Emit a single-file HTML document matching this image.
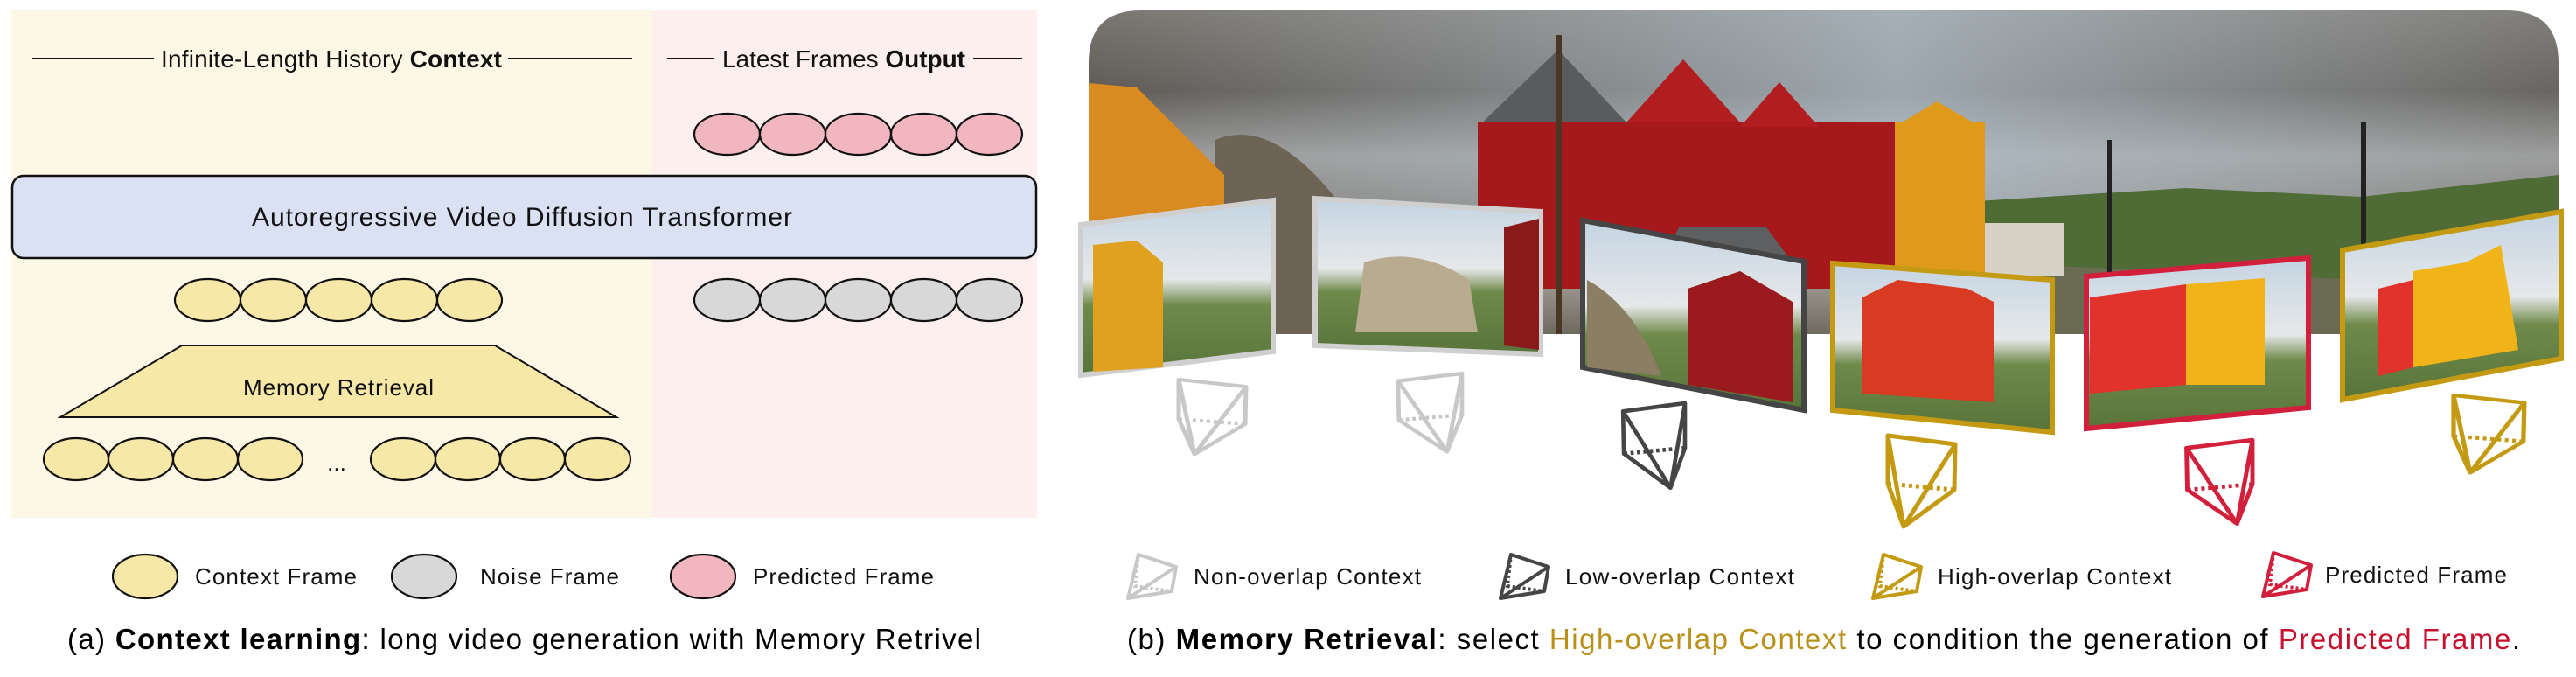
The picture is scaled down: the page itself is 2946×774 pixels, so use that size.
<!DOCTYPE html>
<html><head><meta charset="utf-8"><style>
html,body{margin:0;padding:0;background:#fff;}
svg{display:block;font-family:"Liberation Sans",Arial,sans-serif;}
</style></head><body>
<svg width="2946" height="774" viewBox="0 0 2946 774" xmlns="http://www.w3.org/2000/svg">
<defs>
<linearGradient id="sky" x1="0" y1="0" x2="0" y2="1">
<stop offset="0" stop-color="#7a7670"/><stop offset="0.25" stop-color="#5f5b56"/><stop offset="0.45" stop-color="#9a9a98"/><stop offset="0.65" stop-color="#7d7a74"/><stop offset="0.85" stop-color="#9a968e"/><stop offset="1" stop-color="#6e6a60"/>
</linearGradient>
<linearGradient id="skyb" x1="0" y1="0" x2="1" y2="0">
<stop offset="0" stop-color="#b8c6d0" stop-opacity="0"/><stop offset="0.55" stop-color="#b8c8d4" stop-opacity="0.7"/><stop offset="1" stop-color="#b8c6d0" stop-opacity="0.1"/>
</linearGradient>
<linearGradient id="fsky" x1="0" y1="0" x2="0" y2="1">
<stop offset="0" stop-color="#c4d4e2"/><stop offset="0.45" stop-color="#e6e8ea"/><stop offset="0.6" stop-color="#6f8a4a"/><stop offset="1" stop-color="#58743a"/>
</linearGradient>
<clipPath id="pc"><path d="M1305 12 H2866 Q2926 12 2926 72 V382 H1245 V72 Q1245 12 1305 12 Z"/></clipPath>
<g id="cam"><path d="M0 0 L77 10 L76 62 L18 104 L0 55 Z M77 10 L18 104 M0 0 L18 104" fill="none" stroke-linejoin="round"/><path d="M0 55 L76 62" fill="none" stroke-dasharray="4 4"/></g>
<g id="lcam"><path d="M12 0 L55 14 L50 42 L0 50 Z M55 14 L0 50" fill="none" stroke-linejoin="round"/><path d="M12 0 L8 36 L50 42" fill="none" stroke-dasharray="3 3"/></g>
</defs>

<!-- left panel -->
<rect x="13" y="12" width="733" height="580" fill="#fdf8e6"/>
<rect x="746" y="12" width="440" height="580" fill="#fcefed"/>
<line x1="37" y1="67" x2="176" y2="67" stroke="#111" stroke-width="2"/>
<text x="184" y="77" font-size="28" textLength="390" fill="#111">Infinite-Length History <tspan font-weight="bold">Context</tspan></text>
<line x1="581" y1="67" x2="723" y2="67" stroke="#111" stroke-width="2"/>
<line x1="763" y1="67" x2="817" y2="67" stroke="#111" stroke-width="2"/>
<text x="826" y="77" font-size="28" textLength="278" fill="#111">Latest Frames <tspan font-weight="bold">Output</tspan></text>
<line x1="1113" y1="67" x2="1169" y2="67" stroke="#111" stroke-width="2"/>

<g stroke="#111" stroke-width="2.2">
<g fill="#f2b6bf">
<rect x="794" y="130" width="75" height="47" rx="37" ry="23.5"/><rect x="869" y="130" width="75" height="47" rx="37" ry="23.5"/><rect x="944" y="130" width="75" height="47" rx="37" ry="23.5"/><rect x="1019" y="130" width="75" height="47" rx="37" ry="23.5"/><rect x="1094" y="130" width="75" height="47" rx="37" ry="23.5"/>
</g>
<rect x="14" y="201" width="1171" height="94" rx="13" fill="#d9e1f3" stroke-width="2.5"/>
<g fill="#f7e8a8">
<rect x="200" y="319" width="75" height="48" rx="37" ry="24"/><rect x="275" y="319" width="75" height="48" rx="37" ry="24"/><rect x="350" y="319" width="75" height="48" rx="37" ry="24"/><rect x="425" y="319" width="75" height="48" rx="37" ry="24"/><rect x="500" y="319" width="74" height="48" rx="37" ry="24"/>
</g>
<g fill="#d8d8d8">
<rect x="794" y="319" width="75" height="48" rx="37" ry="24"/><rect x="869" y="319" width="75" height="48" rx="37" ry="24"/><rect x="944" y="319" width="75" height="48" rx="37" ry="24"/><rect x="1019" y="319" width="75" height="48" rx="37" ry="24"/><rect x="1094" y="319" width="75" height="48" rx="37" ry="24"/>
</g>
<polygon points="208,395 566,395 705,477 69,477" fill="#f7e8a8" stroke-width="2"/>
<g fill="#f7e8a8">
<rect x="50" y="501" width="74" height="48" rx="37" ry="24"/><rect x="124" y="501" width="74" height="48" rx="37" ry="24"/><rect x="198" y="501" width="74" height="48" rx="37" ry="24"/><rect x="272" y="501" width="74" height="48" rx="37" ry="24"/>
<rect x="424" y="501" width="74" height="48" rx="37" ry="24"/><rect x="498" y="501" width="74" height="48" rx="37" ry="24"/><rect x="572" y="501" width="74" height="48" rx="37" ry="24"/><rect x="646" y="501" width="75" height="48" rx="37" ry="24"/>
</g>
<rect x="129" y="634" width="74" height="50" rx="37" ry="25" fill="#f7e8a8"/>
<rect x="448" y="634" width="74" height="50" rx="37" ry="25" fill="#d8d8d8"/>
<rect x="767" y="634" width="74" height="50" rx="37" ry="25" fill="#f2b6bf"/>
</g>
<text x="597" y="258" font-size="30" text-anchor="middle" textLength="618" fill="#111">Autoregressive Video Diffusion Transformer</text>
<text x="387" y="452" font-size="26" text-anchor="middle" textLength="218" fill="#111">Memory Retrieval</text>
<text x="385" y="538" font-size="26" text-anchor="middle" fill="#111">...</text>
<text x="223" y="668" font-size="26" textLength="185" fill="#111">Context Frame</text>
<text x="549" y="668" font-size="26" textLength="159" fill="#111">Noise Frame</text>
<text x="861" y="668" font-size="26" textLength="207" fill="#111">Predicted Frame</text>
<text x="77" y="742" font-size="33" textLength="1045" fill="#000">(a) <tspan font-weight="bold">Context learning</tspan>: long video generation with Memory Retrivel</text>

<!-- right panel photo -->
<g clip-path="url(#pc)">
<rect x="1245" y="12" width="1681" height="370" fill="url(#sky)"/>
<rect x="1245" y="12" width="1681" height="250" fill="url(#skyb)"/>
<polygon points="2260,230 2500,215 2700,225 2926,200 2926,382 2260,382" fill="#4f6b36"/>
<polygon points="2260,300 2926,330 2926,382 2260,382" fill="#6a6b52"/>
<path d="M1390 160 Q1460 130 1545 250 L1545 382 L1390 382 Z" fill="#6d6456"/>
<polygon points="1245,95 1300,100 1400,200 1400,382 1245,382" fill="#d98a20"/>
<polygon points="1690,145 1782,57 1860,140 1860,150 1690,150" fill="#5a5b5e"/>
<rect x="1690" y="140" width="480" height="190" fill="#a5191c"/>
<polygon points="1860,140 1925,68 1990,140" fill="#b21e20"/>
<polygon points="1990,145 2035,94 2080,145" fill="#b21e20"/>
<rect x="2167" y="140" width="103" height="190" fill="#de9a18"/>
<polygon points="2167,145 2215,116 2265,145" fill="#de9a18"/>
<polygon points="1920,260 2020,260 2050,300 1900,300" fill="#5e5f60"/>
<rect x="1780" y="40" width="6" height="342" fill="#4a3622"/>
<rect x="2270" y="255" width="90" height="60" fill="#d6d2c6"/>
<rect x="2410" y="160" width="5" height="200" fill="#222"/>
<rect x="2700" y="140" width="6" height="220" fill="#222"/>
</g>

<!-- frames -->
<g stroke-width="6" stroke-linejoin="miter">
<polygon points="1236,257 1456,229 1456,402 1236,429" fill="url(#fsky)" stroke="#cfcfcf"/>
<polygon points="1250,280 1300,275 1330,300 1330,420 1250,425" fill="#e0a020"/>
<polygon points="1504,227 1762,242 1762,405 1504,395" fill="url(#fsky)" stroke="#cfcfcf"/>
<path d="M1560 300 Q1620 280 1680 320 L1690 380 L1550 380 Z" fill="#b8ab90"/>
<polygon points="1720,260 1760,250 1760,400 1720,395" fill="#8a1a1a"/>
<polygon points="1810,252 2063,299 2063,469 1810,420" fill="url(#fsky)" stroke="#454545"/>
<polygon points="1930,330 1990,310 2050,345 2050,460 1930,440" fill="#9a1a1e"/>
<path d="M1815 320 Q1870 350 1900 430 L1815 420 Z" fill="#8b7e62"/>
<polygon points="2096,301 2347,320 2347,494 2096,469" fill="url(#fsky)" stroke="#c49a12"/>
<polygon points="2130,340 2170,320 2250,330 2280,345 2280,460 2130,450" fill="#d83a22"/>
<polygon points="2386,316 2640,295 2640,466 2386,490" fill="url(#fsky)" stroke="#d21f3c"/>
<polygon points="2390,340 2500,325 2500,440 2390,450" fill="#e1332b"/>
<polygon points="2500,325 2590,318 2590,440 2500,440" fill="#f0b418"/>
<polygon points="2679,286 2929,242 2929,410 2679,457" fill="url(#fsky)" stroke="#c49a12"/>
<polygon points="2760,310 2820,300 2860,280 2880,400 2760,420" fill="#f0b418"/>
<polygon points="2720,330 2760,320 2760,420 2720,430" fill="#e1332b"/>
</g>

<!-- cameras -->
<g stroke-width="5">
<use href="#cam" transform="translate(1348,434) scale(1,0.82)" stroke="#c8c8c8"/>
<use href="#cam" transform="translate(1672,427) scale(-0.95,0.86)" stroke="#c8c8c8"/>
<use href="#cam" transform="translate(1927,461) scale(-0.92,0.93)" stroke="#454545"/>
<use href="#cam" transform="translate(2159,498)" stroke="#c49a12"/>
<use href="#cam" transform="translate(2576,503) scale(-0.98,0.92)" stroke="#d21f3c"/>
<use href="#cam" transform="translate(2806,452) scale(1.05,0.85)" stroke="#c49a12"/>
</g>

<!-- legend right -->
<g stroke-width="4">
<use href="#lcam" transform="translate(1290,634)" stroke="#c8c8c8"/>
<use href="#lcam" transform="translate(1716,634)" stroke="#454545"/>
<use href="#lcam" transform="translate(2142,634)" stroke="#c49a12"/>
<use href="#lcam" transform="translate(2588,632)" stroke="#d21f3c"/>
</g>
<text x="1365" y="668" font-size="26" textLength="260" fill="#111">Non-overlap Context</text>
<text x="1790" y="668" font-size="26" textLength="262" fill="#111">Low-overlap Context</text>
<text x="2216" y="668" font-size="26" textLength="267" fill="#111">High-overlap Context</text>
<text x="2659" y="666" font-size="26" textLength="208" fill="#111">Predicted Frame</text>
<text x="1289" y="742" font-size="33" textLength="1593" fill="#000">(b) <tspan font-weight="bold">Memory Retrieval</tspan>: select <tspan fill="#b8901a">High-overlap Context</tspan> to condition the generation of <tspan fill="#c8102e">Predicted Frame</tspan>.</text>
</svg>
</body></html>
